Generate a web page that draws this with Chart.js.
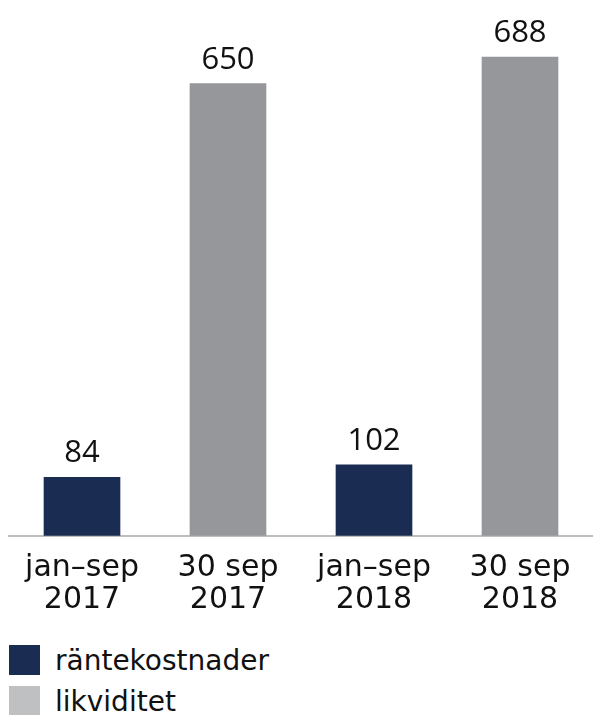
<!DOCTYPE html>
<html lang="sv">
<head>
<meta charset="utf-8">
<title>Räntekostnader och likviditet</title>
<script src="https://cdn.jsdelivr.net/npm/chart.js@4/dist/chart.umd.min.js"></script>
<style>
  html, body { margin: 0; padding: 0; background: #ffffff; }
  #wrap { position: relative; width: 593px; height: 715px; overflow: hidden; }
  #chartBox { position: absolute; left: 0; top: 0; width: 593px; height: 624px; }
  #legend { position: absolute; left: 9px; top: 645px; font-family: "DejaVu Sans", Verdana, sans-serif; font-size: 28px; color: #111111; }
  .item { display: flex; align-items: center; height: 30px; margin-bottom: 11px; }
  .swatch { width: 31px; height: 30px; margin-right: 15px; }
</style>
</head>
<body>
<div id="wrap">
  <div id="chartBox"><canvas id="chart"></canvas></div>
  <div id="legend"></div>
</div>
<script>
// Periods shown along the axis (two lines each)
const categories = [
  ["jan–sep", "2017"],
  ["30 sep", "2017"],
  ["jan–sep", "2018"],
  ["30 sep", "2018"]
];

// Series values (MSEK); null where the series has no bar
const seriesNames = ["räntekostnader", "likviditet"];
const interestCosts = [84, null, 102, null];
const liquidity = [null, 650, null, 688];

const barColors = ["#1b2c52", "#96979b"];
const legendColors = ["#1b2c52", "#bfc0c2"];

// Value labels above each bar
const valueLabels = {
  id: "valueLabels",
  afterDatasetsDraw(chart) {
    const ctx = chart.ctx;
    ctx.save();
    ctx.font = '31px "Open Sans", "Noto Sans", sans-serif';
    ctx.fillStyle = "#111111";
    ctx.textAlign = "center";
    ctx.textBaseline = "alphabetic";
    chart.data.datasets.forEach((ds, i) => {
      chart.getDatasetMeta(i).data.forEach((bar, j) => {
        const v = ds.data[j];
        if (v === null || v === undefined) return;
        ctx.fillText(String(v), bar.x, bar.y - 15);
      });
    });
    ctx.restore();
  }
};

const chart = new Chart(document.getElementById("chart"), {
  type: "bar",
  data: {
    labels: categories,
    datasets: [
      { label: seriesNames[0], data: interestCosts, backgroundColor: barColors[0], skipNull: true, barThickness: 76 },
      { label: seriesNames[1], data: liquidity, backgroundColor: barColors[1], skipNull: true, barThickness: 76 }
    ]
  },
  options: {
    responsive: true,
    maintainAspectRatio: false,
    animation: false,
    layout: { padding: { left: 9, right: 0, top: 0, bottom: 0 } },
    plugins: {
      legend: { display: false },
      tooltip: { enabled: false }
    },
    scales: {
      x: {
        grid: { display: false },
        border: { display: true, color: "#bdbdbd", width: 2 },
        ticks: {
          color: "#111111",
          font: { family: '"DejaVu Sans", Verdana, sans-serif', size: 30, lineHeight: 1.07 },
          padding: 8,
          maxRotation: 0,
          autoSkip: false
        }
      },
      y: {
        display: false,
        min: 0,
        max: 770
      }
    }
  },
  plugins: [valueLabels]
});

// Legend below the chart, one series per row
const legendEl = document.getElementById("legend");
chart.data.datasets.forEach((ds, i) => {
  const row = document.createElement("div");
  row.className = "item";
  const sw = document.createElement("div");
  sw.className = "swatch";
  sw.style.background = legendColors[i];
  const txt = document.createElement("span");
  txt.textContent = ds.label;
  row.appendChild(sw);
  row.appendChild(txt);
  legendEl.appendChild(row);
});
</script>
</body>
</html>
